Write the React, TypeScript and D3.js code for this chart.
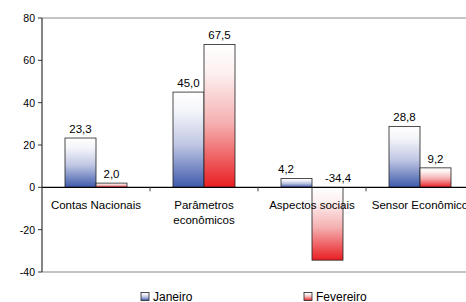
import React from "react";
import * as d3 from "d3";

const categories = ["Contas Nacionais", "Parâmetros\neconômicos", "Aspectos sociais", "Sensor Econômico"];
const janeiro = [23.3, 45.0, 4.2, 28.8];
const fevereiro = [2.0, 67.5, -34.4, 9.2];
const yTicks = [-40, -20, 0, 20, 40, 60, 80];
const seriesNames = ["Janeiro", "Fevereiro"];

const W = 466, H = 302;
const left = 42, top = 18, bottom = 272, plotRight = 474;

export default function App() {
  const y = d3.scaleLinear().domain([-40, 80]).range([bottom, top]);
  const x0 = d3.scaleBand().domain(categories).range([left, plotRight]).paddingInner(0).paddingOuter(0);
  const bw = 31;
  const fmt = (v: number) => v.toFixed(1).replace(".", ",");
  const font = "'Liberation Sans', Arial, sans-serif";
  const series = [janeiro, fevereiro];
  const grads = ["gBlue", "gRed"];
  const labelY = (v: number) => y(Math.max(0, v)) - 5;
  return (
    <svg width={W} height={H} style={{ position: "absolute", left: 0, top: 0 }} fontFamily={font}>
      <defs>
        <linearGradient id="gBlue" x1="0" y1="0" x2="0" y2="1">
          <stop offset="0" stopColor="#ffffff" />
          <stop offset="0.2" stopColor="#f4f5fa" />
          <stop offset="0.55" stopColor="#c0c7e3" />
          <stop offset="1" stopColor="#3e5aab" />
        </linearGradient>
        <linearGradient id="gRed" x1="0" y1="0" x2="0" y2="1">
          <stop offset="0" stopColor="#ffffff" />
          <stop offset="0.2" stopColor="#fdf0f0" />
          <stop offset="0.55" stopColor="#f5b0b1" />
          <stop offset="1" stopColor="#e91e22" />
        </linearGradient>
      </defs>
      <rect width={W} height={H} fill="#fff" />
      <line x1={left} x2={W} y1={top} y2={top} stroke="#8a8a8a" />
      <line x1={left} x2={W} y1={bottom} y2={bottom} stroke="#b0b0b0" strokeWidth={1.5} />
      {categories.map((c, i) => {
        const cx = (x0(c) as number) + x0.bandwidth() / 2;
        const clash = Math.abs(labelY(janeiro[i]) - labelY(fevereiro[i])) < 12;
        return series.map((s, k) => {
          const v = s[i];
          const xs = cx - bw + k * bw;
          const y1 = y(Math.max(0, v));
          const h = Math.abs(y(v) - y(0));
          const dx = clash ? (k === 0 ? -10.5 : 10.5) : 0;
          return (
            <g key={c + k}>
              <rect x={xs} y={y1} width={bw} height={h} fill={`url(#${grads[k]})`} stroke="#222" strokeWidth={0.8} />
              <text x={xs + bw / 2 + dx} y={labelY(v)} textAnchor="middle" fontSize={11.5}>{fmt(v)}</text>
            </g>
          );
        });
      })}
      <line x1={left} x2={plotRight} y1={y(0)} y2={y(0)} stroke="#000" strokeWidth={1.2} />
      {categories.slice(1).map((c) => (
        <line key={c} x1={x0(c) as number} x2={x0(c) as number} y1={y(0)} y2={y(0) + 4} stroke="#444" />
      ))}
      <line x1={left} x2={left} y1={top} y2={bottom} stroke="#333" strokeWidth={1.2} />
      {yTicks.map((t) => (
        <g key={t}>
          <line x1={left - 4} x2={left} y1={y(t)} y2={y(t)} stroke="#333" />
          <text x={left - 7} y={y(t) + 4} textAnchor="end" fontSize={10.5}>{t}</text>
        </g>
      ))}
      {categories.map((c) => {
        const cx = (x0(c) as number) + x0.bandwidth() / 2;
        return c.split("\n").map((ln, j) => (
          <text key={c + j} x={cx} y={209 + j * 15} textAnchor="middle" fontSize={11.5}>{ln}</text>
        ));
      })}
      {seriesNames.map((n, k) => {
        const lx = [141, 304][k];
        return (
          <g key={n}>
            <rect x={lx} y={292.5} width={8} height={8} fill={`url(#${grads[k]})`} stroke="#222" strokeWidth={0.8} />
            <text x={lx + 12} y={300.5} fontSize={12}>{n}</text>
          </g>
        );
      })}
    </svg>
  );
}
